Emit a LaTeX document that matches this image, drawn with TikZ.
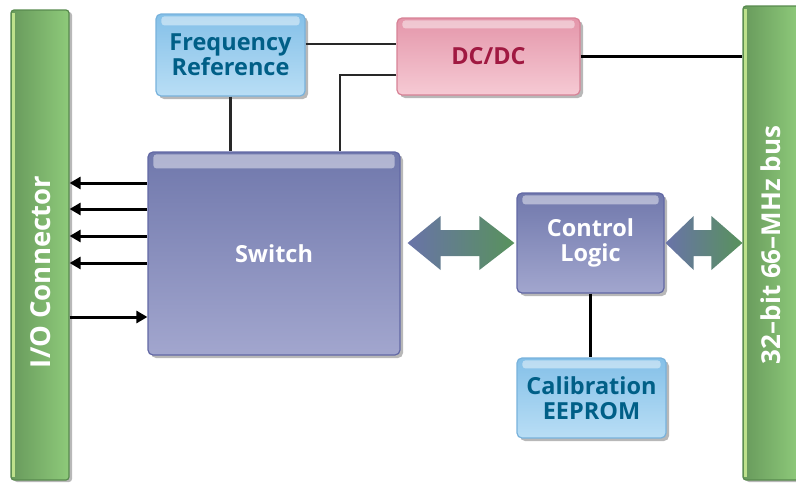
\documentclass[tikz,border=0pt]{standalone}
\usepackage{fontspec}
\setmainfont{Open Sans}
\usetikzlibrary{shadows,arrows.meta,calc}
\definecolor{bluetop}{RGB}{132,192,232}
\definecolor{bluebot}{RGB}{185,222,245}
\definecolor{bluebd}{RGB}{120,178,220}
\definecolor{bluetxt}{RGB}{0,95,135}
\definecolor{pinktop}{RGB}{228,150,170}
\definecolor{pinkbot}{RGB}{246,202,212}
\definecolor{pinkbd}{RGB}{215,130,150}
\definecolor{pinktxt}{RGB}{160,25,65}
\definecolor{purtop}{RGB}{112,120,172}
\definecolor{purbot}{RGB}{162,166,206}
\definecolor{purbd}{RGB}{98,104,165}
\definecolor{grdark}{RGB}{104,154,92}
\definecolor{grlight}{RGB}{142,202,122}
\definecolor{grbd}{RGB}{88,138,78}
\definecolor{grstripe}{RGB}{190,225,140}
\definecolor{arrl}{RGB}{105,115,168}
\definecolor{arrr}{RGB}{88,146,92}
\definecolor{conncol}{RGB}{40,40,40}
\newcommand\glossy[2]{\fill[white,opacity=0.45,rounded corners=3pt] ($(#1.north west)+(6,3)$) rectangle ($(#1.north east)+(-6,3+#2)$);}
\begin{document}
\begin{tikzpicture}[x=1pt,y=-1pt,
  box/.style={rounded corners=5pt, line width=1.2pt, inner sep=0pt, align=center,
    font=\fontsize{23.5}{25}\selectfont\bfseries,
    drop shadow={shadow xshift=3pt,shadow yshift=-3pt,fill=black!28,opacity=1}},
  bluebox/.style={box, draw=bluebd, top color=bluetop, bottom color=bluebot, text=bluetxt},
  pinkbox/.style={box, draw=pinkbd, top color=pinktop, bottom color=pinkbot, text=pinktxt},
  purbox/.style={box, draw=purbd, top color=purtop, bottom color=purbot, text=white},
  bar/.style={rounded corners=3pt, line width=1.2pt, draw=grbd, left color=grdark, right color=grlight,
    inner sep=0pt,
    drop shadow={shadow xshift=3pt,shadow yshift=-2pt,fill=black!28,opacity=1}},
  barlabel/.style={rotate=90, text=white, font=\fontsize{25}{27}\selectfont\bfseries},
  conn/.style={draw=conncol, line width=2.8pt},
  ioarrow/.style={draw=black, line width=3pt, -{Triangle[length=11pt,width=12pt]}},
  arrfill/.style={left color=arrl, right color=arrr}
]
\useasboundingbox (0,0) rectangle (796,483);

% bars
\node[bar, minimum width=58, minimum height=470] (io) at (40,245) {};
\fill[grstripe] ($(io.north west)+(2,4)$) rectangle ($(io.south west)+(5,-4)$);
\node[barlabel, font=\fontsize{27.5}{29}\selectfont\bfseries] (iolbl) at (41,272) {I/O Connector};
\node[bar, minimum width=56, minimum height=474] (bus) at (771,243) {};
\fill[grstripe] ($(bus.north west)+(2,4)$) rectangle ($(bus.south west)+(5,-4)$);
\node[barlabel, font=\fontsize{26}{28}\selectfont\bfseries] (buslbl) at (771,245) {32–bit 66–MHz bus};

% boxes
\node[bluebox, minimum width=149, minimum height=82] (fr) at (230.5,55) {Frequency\\Reference};
\node[pinkbox, minimum width=183, minimum height=77] (dc) at (488.5,56.5) {DC/DC};
\node[purbox, minimum width=252, minimum height=203] (sw) at (274,253.5) {Switch};
\node[purbox, minimum width=147, minimum height=100] (cl) at (590.5,243) {Control\\Logic};
\node[bluebox, minimum width=149, minimum height=80] (ee) at (591.5,398) {Calibration\\EEPROM};

\glossy{fr}{9}
\glossy{dc}{8}
\glossy{sw}{14}
\glossy{cl}{9}
\glossy{ee}{8}

% connectors
\draw[conn] (fr.east |- 0,44) -- (dc.west |- 0,44);
\draw[conn] (dc.west |- 0,75) -| (340,0 |- sw.north);
\draw[conn] (fr.south) -- (fr.south |- sw.north);
\draw[draw=black, line width=3pt] (dc.east) -- (bus.west |- dc.east);
\draw[draw=black, line width=3pt] (cl.south) -- (cl.south |- ee.north);

\draw[ioarrow] (sw.west |- 0,183) -- (io.east |- 0,183);
\draw[ioarrow] (sw.west |- 0,209) -- (io.east |- 0,209);
\draw[ioarrow] (sw.west |- 0,236) -- (io.east |- 0,236);
\draw[ioarrow] (sw.west |- 0,263) -- (io.east |- 0,263);
\draw[ioarrow] (io.east |- 0,317) -- (sw.west |- 0,317);

% double arrows
\coordinate (a1s) at ($(sw.east |- cl.west)+(7,0)$);
\coordinate (a1e) at ($(cl.west)+(-2,0)$);
\coordinate (a2s) at ($(cl.east)+(1,0)$);
\coordinate (a2e) at (bus.west |- cl.east);
\path[arrfill] (a1s) -- ($(a1s)+(33,-27)$) -- ($(a1s)+(33,-13)$) -- ($(a1e)+(-35,-13)$) -- ($(a1e)+(-35,-27)$) -- (a1e)
  -- ($(a1e)+(-35,27)$) -- ($(a1e)+(-35,13)$) -- ($(a1s)+(33,13)$) -- ($(a1s)+(33,27)$) -- cycle;
\path[arrfill] (a2s) -- ($(a2s)+(28,-27)$) -- ($(a2s)+(28,-13)$) -- ($(a2e)+(-31,-13)$) -- ($(a2e)+(-31,-27)$) -- (a2e)
  -- ($(a2e)+(-31,27)$) -- ($(a2e)+(-31,13)$) -- ($(a2s)+(28,13)$) -- ($(a2s)+(28,27)$) -- cycle;
\end{tikzpicture}
\end{document}
